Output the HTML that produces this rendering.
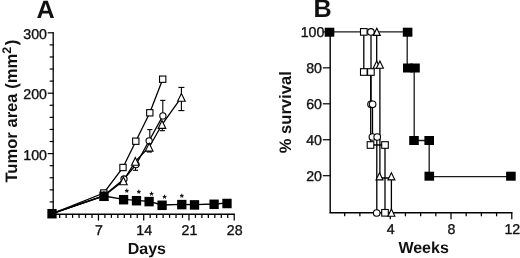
<!DOCTYPE html>
<html><head><meta charset="utf-8"><title>Figure</title>
<style>
html,body{margin:0;padding:0;background:#fff;}
svg{display:block;filter:blur(0.3px);font-family:'Liberation Sans', Arial, sans-serif;fill:#111;text-rendering:geometricPrecision;}
</style></head><body>
<svg width="520" height="258" viewBox="0 0 520 258">
<rect width="520" height="258" fill="#fff"/>
<line x1="53.20" y1="32.20" x2="53.20" y2="214.30" stroke="#000" stroke-width="1.3"/>
<line x1="49.70" y1="201.92" x2="53.70" y2="201.92" stroke="#000" stroke-width="1.2"/>
<line x1="49.70" y1="189.84" x2="53.70" y2="189.84" stroke="#000" stroke-width="1.2"/>
<line x1="49.70" y1="177.76" x2="53.70" y2="177.76" stroke="#000" stroke-width="1.2"/>
<line x1="49.70" y1="165.68" x2="53.70" y2="165.68" stroke="#000" stroke-width="1.2"/>
<line x1="47.70" y1="153.60" x2="53.70" y2="153.60" stroke="#000" stroke-width="1.2"/>
<line x1="49.70" y1="141.52" x2="53.70" y2="141.52" stroke="#000" stroke-width="1.2"/>
<line x1="49.70" y1="129.44" x2="53.70" y2="129.44" stroke="#000" stroke-width="1.2"/>
<line x1="49.70" y1="117.36" x2="53.70" y2="117.36" stroke="#000" stroke-width="1.2"/>
<line x1="49.70" y1="105.28" x2="53.70" y2="105.28" stroke="#000" stroke-width="1.2"/>
<line x1="47.70" y1="93.20" x2="53.70" y2="93.20" stroke="#000" stroke-width="1.2"/>
<line x1="49.70" y1="81.12" x2="53.70" y2="81.12" stroke="#000" stroke-width="1.2"/>
<line x1="49.70" y1="69.04" x2="53.70" y2="69.04" stroke="#000" stroke-width="1.2"/>
<line x1="49.70" y1="56.96" x2="53.70" y2="56.96" stroke="#000" stroke-width="1.2"/>
<line x1="49.70" y1="44.88" x2="53.70" y2="44.88" stroke="#000" stroke-width="1.2"/>
<line x1="47.70" y1="32.80" x2="53.70" y2="32.80" stroke="#000" stroke-width="1.2"/>
<text x="47.00" y="159.60" font-size="14.2" text-anchor="end" font-weight="normal" stroke="#111" stroke-width="0.35">100</text>
<text x="47.00" y="99.20" font-size="14.2" text-anchor="end" font-weight="normal" stroke="#111" stroke-width="0.35">200</text>
<text x="47.00" y="38.80" font-size="14.2" text-anchor="end" font-weight="normal" stroke="#111" stroke-width="0.35">300</text>
<line x1="52.60" y1="214.30" x2="234.92" y2="214.30" stroke="#000" stroke-width="1.5"/>
<line x1="59.67" y1="214.30" x2="59.67" y2="217.90" stroke="#000" stroke-width="1.25"/>
<line x1="66.13" y1="214.30" x2="66.13" y2="217.90" stroke="#000" stroke-width="1.25"/>
<line x1="72.59" y1="214.30" x2="72.59" y2="217.90" stroke="#000" stroke-width="1.25"/>
<line x1="79.06" y1="214.30" x2="79.06" y2="217.90" stroke="#000" stroke-width="1.25"/>
<line x1="85.53" y1="214.30" x2="85.53" y2="217.90" stroke="#000" stroke-width="1.25"/>
<line x1="91.99" y1="214.30" x2="91.99" y2="217.90" stroke="#000" stroke-width="1.25"/>
<line x1="98.45" y1="214.30" x2="98.45" y2="220.60" stroke="#000" stroke-width="1.25"/>
<line x1="104.92" y1="214.30" x2="104.92" y2="217.90" stroke="#000" stroke-width="1.25"/>
<line x1="111.39" y1="214.30" x2="111.39" y2="217.90" stroke="#000" stroke-width="1.25"/>
<line x1="117.85" y1="214.30" x2="117.85" y2="217.90" stroke="#000" stroke-width="1.25"/>
<line x1="124.31" y1="214.30" x2="124.31" y2="217.90" stroke="#000" stroke-width="1.25"/>
<line x1="130.78" y1="214.30" x2="130.78" y2="217.90" stroke="#000" stroke-width="1.25"/>
<line x1="137.25" y1="214.30" x2="137.25" y2="217.90" stroke="#000" stroke-width="1.25"/>
<line x1="143.71" y1="214.30" x2="143.71" y2="220.60" stroke="#000" stroke-width="1.25"/>
<line x1="150.18" y1="214.30" x2="150.18" y2="217.90" stroke="#000" stroke-width="1.25"/>
<line x1="156.64" y1="214.30" x2="156.64" y2="217.90" stroke="#000" stroke-width="1.25"/>
<line x1="163.11" y1="214.30" x2="163.11" y2="217.90" stroke="#000" stroke-width="1.25"/>
<line x1="169.57" y1="214.30" x2="169.57" y2="217.90" stroke="#000" stroke-width="1.25"/>
<line x1="176.03" y1="214.30" x2="176.03" y2="217.90" stroke="#000" stroke-width="1.25"/>
<line x1="182.50" y1="214.30" x2="182.50" y2="217.90" stroke="#000" stroke-width="1.25"/>
<line x1="188.96" y1="214.30" x2="188.96" y2="220.60" stroke="#000" stroke-width="1.25"/>
<line x1="195.43" y1="214.30" x2="195.43" y2="217.90" stroke="#000" stroke-width="1.25"/>
<line x1="201.89" y1="214.30" x2="201.89" y2="217.90" stroke="#000" stroke-width="1.25"/>
<line x1="208.36" y1="214.30" x2="208.36" y2="217.90" stroke="#000" stroke-width="1.25"/>
<line x1="214.82" y1="214.30" x2="214.82" y2="217.90" stroke="#000" stroke-width="1.25"/>
<line x1="221.29" y1="214.30" x2="221.29" y2="217.90" stroke="#000" stroke-width="1.25"/>
<line x1="227.75" y1="214.30" x2="227.75" y2="217.90" stroke="#000" stroke-width="1.25"/>
<line x1="234.22" y1="214.30" x2="234.22" y2="220.60" stroke="#000" stroke-width="1.25"/>
<text x="98.95" y="234.90" font-size="14.2" text-anchor="middle" font-weight="normal" stroke="#111" stroke-width="0.35">7</text>
<text x="144.21" y="234.90" font-size="14.2" text-anchor="middle" font-weight="normal" stroke="#111" stroke-width="0.35">14</text>
<text x="189.46" y="234.90" font-size="14.2" text-anchor="middle" font-weight="normal" stroke="#111" stroke-width="0.35">21</text>
<text x="234.72" y="234.90" font-size="14.2" text-anchor="middle" font-weight="normal" stroke="#111" stroke-width="0.35">28</text>
<text x="146.80" y="253.50" font-size="16" text-anchor="middle" font-weight="bold" >Days</text>
<text transform="translate(16.9,111.2) rotate(-90)" font-size="16.6" text-anchor="middle" font-weight="bold">Tumor area (mm<tspan font-size="12.5" dy="-6">2</tspan><tspan dy="6" dx="1.5">)</tspan></text>
<text x="45.50" y="17.90" font-size="25.2" text-anchor="middle" font-weight="bold" >A</text>
<polyline points="53.00,213.40 103.80,193.00 123.00,167.50 135.80,141.20 149.80,112.80 162.70,79.20" fill="none" stroke="#000" stroke-width="1.3" stroke-linejoin="miter"/>
<polyline points="53.00,213.40 104.00,195.50 124.00,179.00 136.00,164.60 149.10,140.80 162.90,115.90" fill="none" stroke="#000" stroke-width="1.3" stroke-linejoin="miter"/>
<polyline points="53.00,213.40 104.00,196.00 123.40,180.80 135.30,161.30 149.20,147.20 162.00,124.50 181.40,97.40" fill="none" stroke="#000" stroke-width="1.3" stroke-linejoin="miter"/>
<polyline points="52.00,213.40 104.00,196.00 123.60,199.40 136.50,200.40 149.10,201.30 162.10,205.00 181.80,204.30 194.50,204.60 214.10,204.00 227.00,203.20" fill="none" stroke="#000" stroke-width="1.3" stroke-linejoin="miter"/>
<line x1="149.80" y1="129.60" x2="149.80" y2="140.80" stroke="#000" stroke-width="1.1"/>
<line x1="147.20" y1="129.60" x2="152.40" y2="129.60" stroke="#000" stroke-width="1.1"/>
<line x1="162.80" y1="100.40" x2="162.80" y2="115.50" stroke="#000" stroke-width="1.1"/>
<line x1="160.20" y1="100.40" x2="165.40" y2="100.40" stroke="#000" stroke-width="1.1"/>
<line x1="135.50" y1="170.30" x2="135.50" y2="161.30" stroke="#000" stroke-width="1.1"/>
<line x1="132.90" y1="170.30" x2="138.10" y2="170.30" stroke="#000" stroke-width="1.1"/>
<line x1="149.40" y1="152.00" x2="149.40" y2="147.20" stroke="#000" stroke-width="1.1"/>
<line x1="146.80" y1="152.00" x2="152.00" y2="152.00" stroke="#000" stroke-width="1.1"/>
<line x1="162.30" y1="130.70" x2="162.30" y2="124.50" stroke="#000" stroke-width="1.1"/>
<line x1="159.70" y1="130.70" x2="164.90" y2="130.70" stroke="#000" stroke-width="1.1"/>
<line x1="181.40" y1="87.40" x2="181.40" y2="110.60" stroke="#000" stroke-width="1.1"/>
<line x1="178.40" y1="87.40" x2="184.40" y2="87.40" stroke="#000" stroke-width="1.1"/>
<line x1="178.40" y1="110.60" x2="184.40" y2="110.60" stroke="#000" stroke-width="1.1"/>
<rect x="100.65" y="189.85" width="6.3" height="6.3" fill="#fff" stroke="#000" stroke-width="1.1"/>
<rect x="119.85" y="164.35" width="6.3" height="6.3" fill="#fff" stroke="#000" stroke-width="1.1"/>
<rect x="132.65" y="138.05" width="6.3" height="6.3" fill="#fff" stroke="#000" stroke-width="1.1"/>
<rect x="146.65" y="109.65" width="6.3" height="6.3" fill="#fff" stroke="#000" stroke-width="1.1"/>
<rect x="159.55" y="76.05" width="6.3" height="6.3" fill="#fff" stroke="#000" stroke-width="1.1"/>
<circle cx="104.00" cy="195.50" r="3.1" fill="#fff" stroke="#000" stroke-width="1.1"/>
<circle cx="124.00" cy="179.00" r="3.1" fill="#fff" stroke="#000" stroke-width="1.1"/>
<circle cx="136.00" cy="164.60" r="3.1" fill="#fff" stroke="#000" stroke-width="1.1"/>
<circle cx="149.10" cy="140.80" r="3.1" fill="#fff" stroke="#000" stroke-width="1.1"/>
<circle cx="162.90" cy="115.90" r="3.1" fill="#fff" stroke="#000" stroke-width="1.1"/>
<polygon points="104.00,192.10 100.20,199.90 107.80,199.90" fill="#fff" stroke="#000" stroke-width="1.1" stroke-linejoin="miter"/>
<polygon points="123.40,176.90 119.60,184.70 127.20,184.70" fill="#fff" stroke="#000" stroke-width="1.1" stroke-linejoin="miter"/>
<polygon points="135.30,157.40 131.50,165.20 139.10,165.20" fill="#fff" stroke="#000" stroke-width="1.1" stroke-linejoin="miter"/>
<polygon points="149.20,143.30 145.40,151.10 153.00,151.10" fill="#fff" stroke="#000" stroke-width="1.1" stroke-linejoin="miter"/>
<polygon points="162.00,120.60 158.20,128.40 165.80,128.40" fill="#fff" stroke="#000" stroke-width="1.1" stroke-linejoin="miter"/>
<polygon points="181.40,93.50 177.60,101.30 185.20,101.30" fill="#fff" stroke="#000" stroke-width="1.1" stroke-linejoin="miter"/>
<rect x="47.35" y="208.95" width="9.3" height="9.5" fill="#000"/>
<rect x="99.35" y="191.55" width="9.3" height="9.5" fill="#000"/>
<rect x="118.95" y="194.95" width="9.3" height="9.5" fill="#000"/>
<rect x="131.85" y="195.95" width="9.3" height="9.5" fill="#000"/>
<rect x="144.45" y="196.85" width="9.3" height="9.5" fill="#000"/>
<rect x="157.45" y="200.55" width="9.3" height="9.5" fill="#000"/>
<rect x="177.15" y="199.85" width="9.3" height="9.5" fill="#000"/>
<rect x="189.85" y="200.15" width="9.3" height="9.5" fill="#000"/>
<rect x="209.45" y="199.55" width="9.3" height="9.5" fill="#000"/>
<rect x="222.35" y="198.75" width="9.3" height="9.5" fill="#000"/>
<text x="126.80" y="196.20" font-size="10.5" text-anchor="middle" font-weight="bold" fill="#000">*</text>
<text x="138.90" y="197.20" font-size="10.5" text-anchor="middle" font-weight="bold" fill="#000">*</text>
<text x="151.60" y="198.50" font-size="10.5" text-anchor="middle" font-weight="bold" fill="#000">*</text>
<text x="164.60" y="202.00" font-size="10.5" text-anchor="middle" font-weight="bold" fill="#000">*</text>
<text x="181.90" y="201.30" font-size="10.5" text-anchor="middle" font-weight="bold" fill="#000">*</text>
<line x1="330.20" y1="31.90" x2="330.20" y2="212.80" stroke="#000" stroke-width="1.4"/>
<line x1="322.80" y1="175.70" x2="330.20" y2="175.70" stroke="#000" stroke-width="1.2"/>
<text x="322.00" y="180.80" font-size="14.2" text-anchor="end" font-weight="normal" stroke="#111" stroke-width="0.35">20</text>
<line x1="322.80" y1="139.75" x2="330.20" y2="139.75" stroke="#000" stroke-width="1.2"/>
<text x="322.00" y="144.85" font-size="14.2" text-anchor="end" font-weight="normal" stroke="#111" stroke-width="0.35">40</text>
<line x1="322.80" y1="103.80" x2="330.20" y2="103.80" stroke="#000" stroke-width="1.2"/>
<text x="322.00" y="108.90" font-size="14.2" text-anchor="end" font-weight="normal" stroke="#111" stroke-width="0.35">60</text>
<line x1="322.80" y1="67.85" x2="330.20" y2="67.85" stroke="#000" stroke-width="1.2"/>
<text x="322.00" y="72.95" font-size="14.2" text-anchor="end" font-weight="normal" stroke="#111" stroke-width="0.35">80</text>
<line x1="322.80" y1="31.90" x2="330.20" y2="31.90" stroke="#000" stroke-width="1.2"/>
<text x="324.30" y="36.50" font-size="14.2" text-anchor="end" font-weight="normal" stroke="#111" stroke-width="0.35">100</text>
<line x1="329.50" y1="212.80" x2="512.48" y2="212.80" stroke="#000" stroke-width="1.4"/>
<line x1="344.69" y1="212.80" x2="344.69" y2="216.30" stroke="#000" stroke-width="1.25"/>
<line x1="359.88" y1="212.80" x2="359.88" y2="216.30" stroke="#000" stroke-width="1.25"/>
<line x1="375.07" y1="212.80" x2="375.07" y2="216.30" stroke="#000" stroke-width="1.25"/>
<line x1="390.26" y1="212.80" x2="390.26" y2="219.30" stroke="#000" stroke-width="1.25"/>
<line x1="405.45" y1="212.80" x2="405.45" y2="216.30" stroke="#000" stroke-width="1.25"/>
<line x1="420.64" y1="212.80" x2="420.64" y2="216.30" stroke="#000" stroke-width="1.25"/>
<line x1="435.83" y1="212.80" x2="435.83" y2="216.30" stroke="#000" stroke-width="1.25"/>
<line x1="451.02" y1="212.80" x2="451.02" y2="219.30" stroke="#000" stroke-width="1.25"/>
<line x1="466.21" y1="212.80" x2="466.21" y2="216.30" stroke="#000" stroke-width="1.25"/>
<line x1="481.40" y1="212.80" x2="481.40" y2="216.30" stroke="#000" stroke-width="1.25"/>
<line x1="496.59" y1="212.80" x2="496.59" y2="216.30" stroke="#000" stroke-width="1.25"/>
<line x1="511.78" y1="212.80" x2="511.78" y2="219.30" stroke="#000" stroke-width="1.25"/>
<text x="390.76" y="233.60" font-size="14.2" text-anchor="middle" font-weight="normal" stroke="#111" stroke-width="0.35">4</text>
<text x="451.52" y="233.60" font-size="14.2" text-anchor="middle" font-weight="normal" stroke="#111" stroke-width="0.35">8</text>
<text x="512.28" y="233.60" font-size="14.2" text-anchor="middle" font-weight="normal" stroke="#111" stroke-width="0.35">12</text>
<text x="423.60" y="252.80" font-size="16" text-anchor="middle" font-weight="bold" >Weeks</text>
<text transform="translate(290.8,112.3) rotate(-90)" font-size="16.6" text-anchor="middle" font-weight="bold">% survival</text>
<text x="322.50" y="17.20" font-size="25.2" text-anchor="middle" font-weight="bold" >B</text>
<polyline points="330.20,31.90 407.20,31.90 407.20,68.00 414.20,68.00 414.20,140.50 429.20,140.50 429.20,176.70 511.00,176.70" fill="none" stroke="#1a1a1a" stroke-width="1.3" stroke-linejoin="miter"/>
<polyline points="363.80,31.90 363.80,72.00 370.70,72.00 370.70,145.00 385.00,145.00 385.00,212.80" fill="none" stroke="#000" stroke-width="1.3" stroke-linejoin="miter"/>
<polyline points="371.00,31.90 371.00,104.30 372.50,104.30 372.50,137.00 376.80,137.00 376.80,212.80" fill="none" stroke="#000" stroke-width="1.3" stroke-linejoin="miter"/>
<polyline points="376.70,31.90 376.70,64.50 379.90,64.50 379.90,178.00 391.40,178.00 391.40,212.80" fill="none" stroke="#000" stroke-width="1.3" stroke-linejoin="miter"/>
<rect x="360.50" y="28.60" width="6.6" height="6.6" fill="#fff" stroke="#000" stroke-width="1.1"/>
<rect x="360.50" y="68.70" width="6.6" height="6.6" fill="#fff" stroke="#000" stroke-width="1.1"/>
<rect x="367.60" y="68.70" width="6.6" height="6.6" fill="#fff" stroke="#000" stroke-width="1.1"/>
<rect x="367.20" y="141.70" width="6.6" height="6.6" fill="#fff" stroke="#000" stroke-width="1.1"/>
<rect x="381.70" y="141.70" width="6.6" height="6.6" fill="#fff" stroke="#000" stroke-width="1.1"/>
<rect x="381.70" y="209.50" width="6.6" height="6.6" fill="#fff" stroke="#000" stroke-width="1.1"/>
<polygon points="376.80,28.20 373.30,35.40 380.30,35.40" fill="#fff" stroke="#000" stroke-width="1.1" stroke-linejoin="miter"/>
<polygon points="376.70,61.00 373.20,68.20 380.20,68.20" fill="#fff" stroke="#000" stroke-width="1.1" stroke-linejoin="miter"/>
<polygon points="379.90,61.00 376.40,68.20 383.40,68.20" fill="#fff" stroke="#000" stroke-width="1.1" stroke-linejoin="miter"/>
<polygon points="379.50,172.70 376.00,179.90 383.00,179.90" fill="#fff" stroke="#000" stroke-width="1.1" stroke-linejoin="miter"/>
<polygon points="391.40,172.70 387.90,179.90 394.90,179.90" fill="#fff" stroke="#000" stroke-width="1.1" stroke-linejoin="miter"/>
<polygon points="391.40,209.00 387.90,216.20 394.90,216.20" fill="#fff" stroke="#000" stroke-width="1.1" stroke-linejoin="miter"/>
<circle cx="370.90" cy="31.90" r="3.3" fill="#fff" stroke="#000" stroke-width="1.1"/>
<circle cx="371.00" cy="104.30" r="3.3" fill="#fff" stroke="#000" stroke-width="1.1"/>
<circle cx="372.60" cy="104.30" r="3.3" fill="#fff" stroke="#000" stroke-width="1.1"/>
<circle cx="372.40" cy="137.00" r="3.3" fill="#fff" stroke="#000" stroke-width="1.1"/>
<circle cx="377.20" cy="137.00" r="3.3" fill="#fff" stroke="#000" stroke-width="1.1"/>
<circle cx="376.70" cy="213.00" r="3.3" fill="#fff" stroke="#000" stroke-width="1.1"/>
<rect x="324.70" y="27.70" width="9.6" height="9.0" fill="#000"/>
<rect x="402.80" y="27.70" width="9.6" height="9.0" fill="#000"/>
<rect x="403.00" y="63.50" width="9.6" height="9.0" fill="#000"/>
<rect x="410.20" y="63.50" width="9.6" height="9.0" fill="#000"/>
<rect x="409.20" y="136.00" width="9.6" height="9.0" fill="#000"/>
<rect x="424.40" y="136.00" width="9.6" height="9.0" fill="#000"/>
<rect x="424.50" y="171.70" width="9.6" height="9.0" fill="#000"/>
<rect x="506.10" y="171.70" width="9.6" height="9.0" fill="#000"/>
</svg>
</body></html>
